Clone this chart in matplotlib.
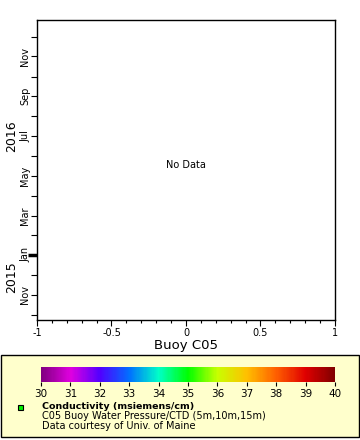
import matplotlib
matplotlib.use("Agg")
import matplotlib.pyplot as plt
import matplotlib.dates as mdates
import matplotlib.transforms as mtransforms
from matplotlib.colors import LinearSegmentedColormap, Normalize
from matplotlib.patches import Rectangle
import datetime as dt
import numpy as np

# ---- data ----
station = "Buoy C05"
x_limits = [-1, 1]
x_major_ticks = [-1, -0.5, 0, 0.5, 1]
x_tick_labels = ["-1", "-0.5", "0", "0.5", "1"]
date_start = dt.datetime(2015, 9, 23)
date_end = dt.datetime(2016, 12, 27)
year_labels = ["2015", "2016"]
year_label_dates = [dt.datetime(2015, 11, 28), dt.datetime(2016, 7, 1)]
year_boundary = dt.datetime(2016, 1, 1)
cbar_values = list(range(30, 41))
cbar_colors = ["#800080", "#e000e0", "#5000ff", "#0070ff", "#00ffc8", "#00ff00",
               "#c8ff00", "#ffc000", "#ff6000", "#e00000", "#800000"]
legend_title = "Conductivity (msiemens/cm)"
legend_lines = ["C05 Buoy Water Pressure/CTD (5m,10m,15m)", "Data courtesy of Univ. of Maine"]
no_data_text = "No Data"

W, H = 360, 440
fig = plt.figure(figsize=(W / 100, H / 100), dpi=100)
fig.patch.set_facecolor("white")

def px_axes(l, t, r, b):
    return [l / W, 1 - b / H, (r - l) / W, (b - t) / H]

ax = fig.add_axes(px_axes(37, 20, 335, 320))
ax.set_xlim(*x_limits)
ax.set_ylim(mdates.date2num(date_start), mdates.date2num(date_end))
ax.set_xticks(x_major_ticks)
ax.set_xticklabels(x_tick_labels, fontsize=7)
ax.xaxis.set_minor_locator(matplotlib.ticker.MultipleLocator(0.1))
ax.tick_params(axis="x", which="major", length=4, width=0.8, pad=1.5)
ax.tick_params(axis="x", which="minor", length=2.5, width=0.8)

ax.yaxis.set_major_locator(mdates.MonthLocator(bymonth=[1, 3, 5, 7, 9, 11]))
ax.yaxis.set_minor_locator(mdates.MonthLocator())
ax.yaxis.set_major_formatter(mdates.DateFormatter("%b"))
ax.tick_params(axis="y", which="major", length=4, width=0.8, pad=1, labelsize=7)
ax.tick_params(axis="y", which="minor", length=4, width=0.8)
for lbl in ax.get_yticklabels():
    lbl.set_rotation(90)
    lbl.set_va("center")

for s in ax.spines.values():
    s.set_linewidth(1.0)

ax.set_xlabel(station, fontsize=9.5, labelpad=1)

# year labels
trans = mtransforms.blended_transform_factory(fig.transFigure, ax.transData)
for lab, d in zip(year_labels, year_label_dates):
    ax.text(12 / W, mdates.date2num(d), lab, transform=trans, rotation=90,
            fontsize=9, ha="center", va="center")

# thick year-boundary tick
ytr = mtransforms.blended_transform_factory(ax.transAxes, ax.transData)
yb = mdates.date2num(year_boundary)
ax.plot([-0.03, 0], [yb, yb], transform=ytr, color="black", lw=2.5,
        clip_on=False, solid_capstyle="butt")

ax.text(0.5, 0.517, no_data_text, transform=ax.transAxes, ha="center",
        va="center", fontsize=7)

# legend panel
fig.patches.append(Rectangle((1 / W, 1 - 437 / H), 358 / W, 82 / H,
                             transform=fig.transFigure, facecolor="#ffffcc",
                             edgecolor="black", lw=1.0, zorder=-5))

cax = fig.add_axes(px_axes(41, 367, 335, 382))
cmap = LinearSegmentedColormap.from_list(
    "cond", list(zip(np.linspace(0, 1, len(cbar_colors)), cbar_colors)))
norm = Normalize(vmin=cbar_values[0], vmax=cbar_values[-1])
cb = fig.colorbar(matplotlib.cm.ScalarMappable(norm=norm, cmap=cmap),
                  cax=cax, orientation="horizontal")
cb.set_ticks(cbar_values)
cb.set_ticklabels([str(v) for v in cbar_values])
cb.outline.set_visible(False)
cax.tick_params(axis="x", length=3, width=0.8, labelsize=7.5, pad=2)

fig.patches.append(Rectangle((17.5 / W, 1 - 410 / H), 5 / W, 5 / H,
                             transform=fig.transFigure, facecolor="#00ee00",
                             edgecolor="black", lw=0.8, zorder=3))
fig.text(42 / W, 1 - 406 / H, legend_title, fontsize=6.8, fontweight="bold",
         ha="left", va="center")
for i, line in enumerate(legend_lines):
    fig.text(42 / W, 1 - (416 + 10 * i) / H, line, fontsize=7,
             ha="left", va="center")

fig.savefig("out.png", dpi=100)
